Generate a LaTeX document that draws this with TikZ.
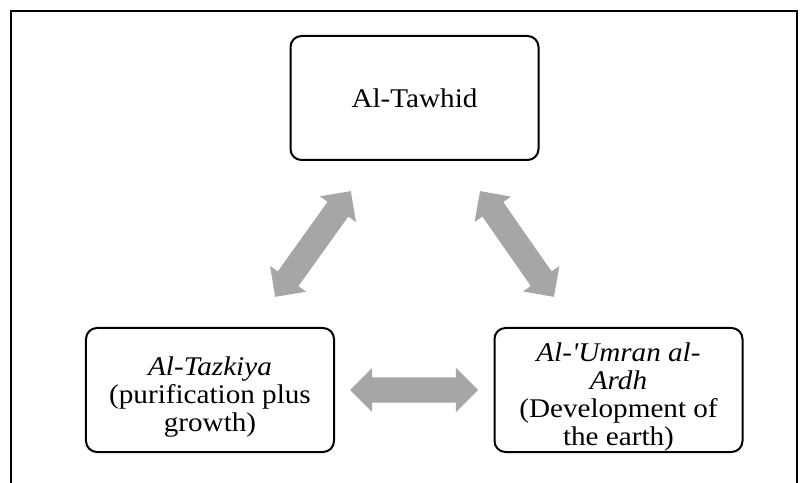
\documentclass[tikz,border=0pt]{standalone}
\usepackage{fontspec}
\setmainfont[Ligatures=TeXOff, FakeStretch=1.08]{Liberation Serif}
\usetikzlibrary{shapes.arrows}
\tikzset{
  box/.style={draw=black, line width=2bp, rounded corners=11bp, minimum width=248bp, minimum height=124bp, inner sep=0pt, align=center, font=\fontsize{27bp}{28bp}\selectfont},
  dbl/.style={double arrow, fill=black!35, draw=none, inner xsep=0pt, inner ysep=12.5bp, minimum width=44bp, minimum height=#1, double arrow head extend=9.5bp, double arrow tip angle=90},
  frame/.style={draw=black, line width=1.6bp}
}
\newcommand{\lift}{\rule{0pt}{33bp}}
\begin{document}
\begin{tikzpicture}[x=1bp,y=-1bp]
\useasboundingbox (0,0) rectangle (805,483);
\draw[frame] (11,483) -- (11,11) -- (797,11) -- (797,483);
\node[box] (tawhid) at (414.5,98) {Al-Tawhid};
\node[box] (tazkiya) at (210,390) {\lift\textit{Al-Tazkiya}\\(purification plus\\growth)};
\node[box] (umran) at (618.5,390) {\lift\textit{Al-'Umran al-}\\\textit{Ardh}\\(Development of\\the earth)};
\node[dbl=130bp, rotate=54.4] (a1) at (313,244) {};
\node[dbl=129bp, rotate=-55.1] (a2) at (517,244) {};
\node[dbl=128bp] (a3) at (414,390) {};
\end{tikzpicture}
\end{document}
